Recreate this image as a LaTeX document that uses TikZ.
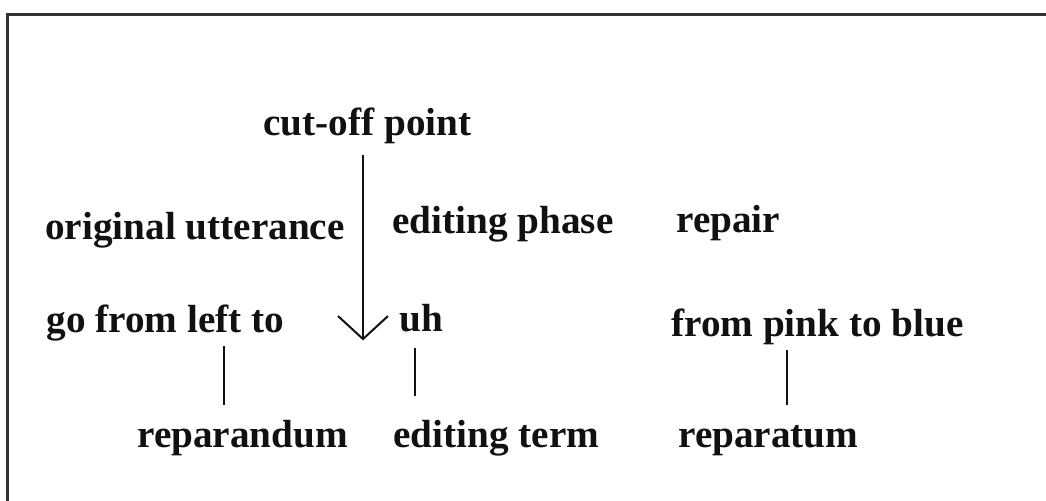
\documentclass[tikz,border=0pt]{standalone}
\usepackage{fontspec}
\setmainfont{Liberation Serif}
\usetikzlibrary{arrows.meta}
\definecolor{ink}{HTML}{111111}
\definecolor{rule}{HTML}{333333}
\tikzset{
  word/.style={font=\bfseries\fontsize{19.6pt}{23pt}\selectfont, text=ink,
               anchor=base west, inner sep=0pt, text height=21.5pt, text depth=6.5pt},
  tick/.style={draw=ink, line width=0.9pt},
  cut/.style={-{Straight Barb[length=11.5pt,width=25pt]}, draw=ink, line width=1pt},
  frame/.style={draw=rule, line width=1.3pt}
}

\begin{document}
\begin{tikzpicture}[x=0.5pt,y=-0.5pt]
        \useasboundingbox (0,0) rectangle (1046,501);
        \draw[frame] (7.5,501) -- (7.5,14.5) -- (1046,14.5);
        \node[word] (cutoff) at (263,136) {cut-off point};
        \node[word] (orig) at (45,240) {original utterance};
        \node[word] (editph) at (392,234) {editing phase};
        \node[word] (repair) at (676,233) {repair};
        \node[word] (golt) at (46,333) {go from left to};
        \node[word] (uh) at (399,332) {uh};
        \node[word] (fpb) at (671,337) {from pink to blue};
        \node[word] (rdum) at (137,448) {reparandum};
        \node[word] (eterm) at (393,448) {editing term};
        \node[word] (rtum) at (678,448) {reparatum};
        \draw[cut,shorten <=3pt,shorten >=2.5pt] (cutoff.south -| 363,0) -- (uh.south -| 363,0);
        \draw[tick] (golt.south -| 224,0) -- (rdum.north -| 224,0);
        \draw[tick,shorten <=1.5pt,shorten >=4.5pt] (uh.south -| 415,0) -- (eterm.north -| 415,0);
        \draw[tick] (fpb.south -| 787,0) -- (rtum.north -| 787,0);
      \end{tikzpicture}
\end{document}
